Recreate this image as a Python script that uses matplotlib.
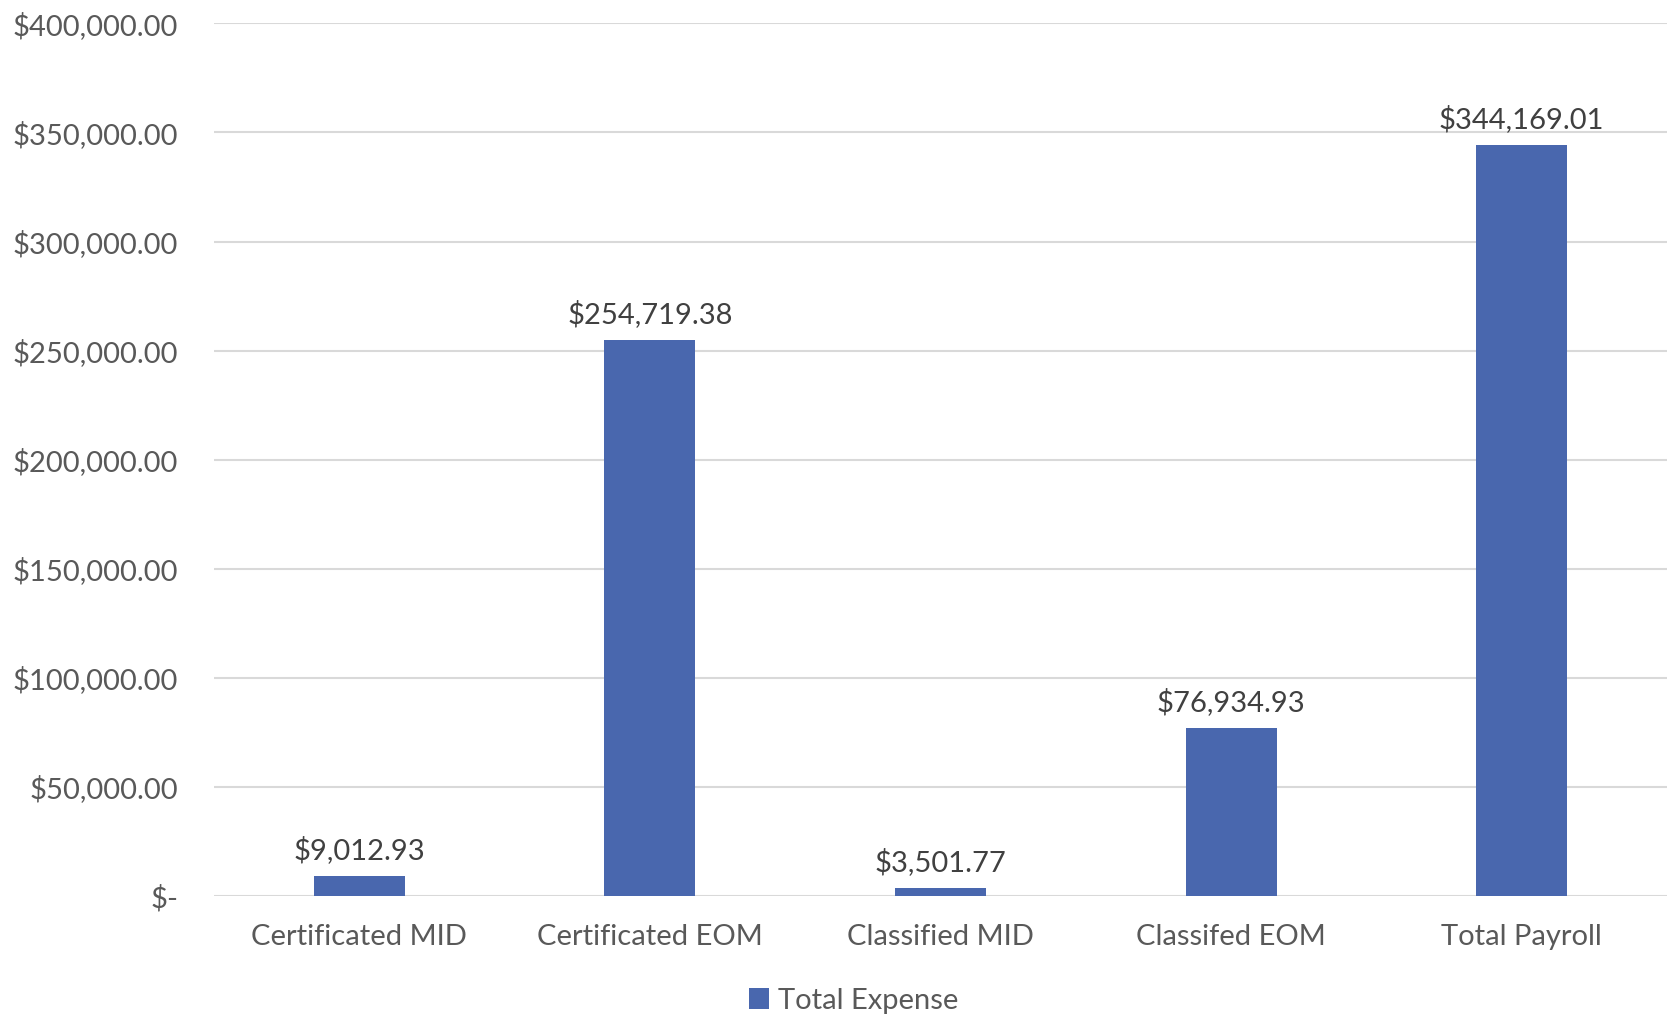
import matplotlib.pyplot as plt
import numpy as np
from matplotlib.ticker import FuncFormatter

categories = ["Certificated MID", "Certificated EOM", "Classified MID", "Classifed EOM", "Total Payroll"]
total_expense = [9012.93, 254719.38, 3501.77, 76934.93, 344169.01]
series_name = "Total Expense"

bar_color = "#4967AE"
text_color = "#595959"
plt.rcParams['font.family'] = ['Lato', 'DejaVu Sans']

fig = plt.figure(figsize=(16.67, 10.17), dpi=100)
ax = fig.add_axes([0.1284, 0.119, 0.8716, 0.858])

x = np.arange(len(categories))
bars = ax.bar(x, total_expense, width=0.313, color=bar_color, label=series_name, zorder=3)

for xi, v in zip(x, total_expense):
    ax.annotate(f"${v:,.2f}", (xi, v), xytext=(0, 9), textcoords="offset points",
                ha="center", va="bottom", fontsize=21, color="#404040")

ax.set_xlim(-0.5, len(categories) - 0.5)
ax.set_ylim(0, 400000)
ax.set_yticks(np.arange(0, 400001, 50000))
ax.yaxis.set_major_formatter(FuncFormatter(lambda v, p: "$-" if v == 0 else f"${v:,.2f}"))
ax.set_xticks(x)
ax.set_xticklabels(categories)
ax.tick_params(axis="both", length=0, labelsize=21, colors=text_color)
ax.tick_params(axis="y", pad=26)
ax.tick_params(axis="x", pad=20)
ax.grid(axis="y", color="#D9D9D9", linewidth=1.5, zorder=0)
for s in ax.spines.values():
    s.set_visible(False)

leg = fig.legend(loc="center", bbox_to_anchor=(0.512, 0.016), frameon=False, fontsize=21,
                 handlelength=0.7, handleheight=0.7, handletextpad=0.3)
for t in leg.get_texts():
    t.set_color(text_color)

fig.savefig("out.png", dpi=100)
